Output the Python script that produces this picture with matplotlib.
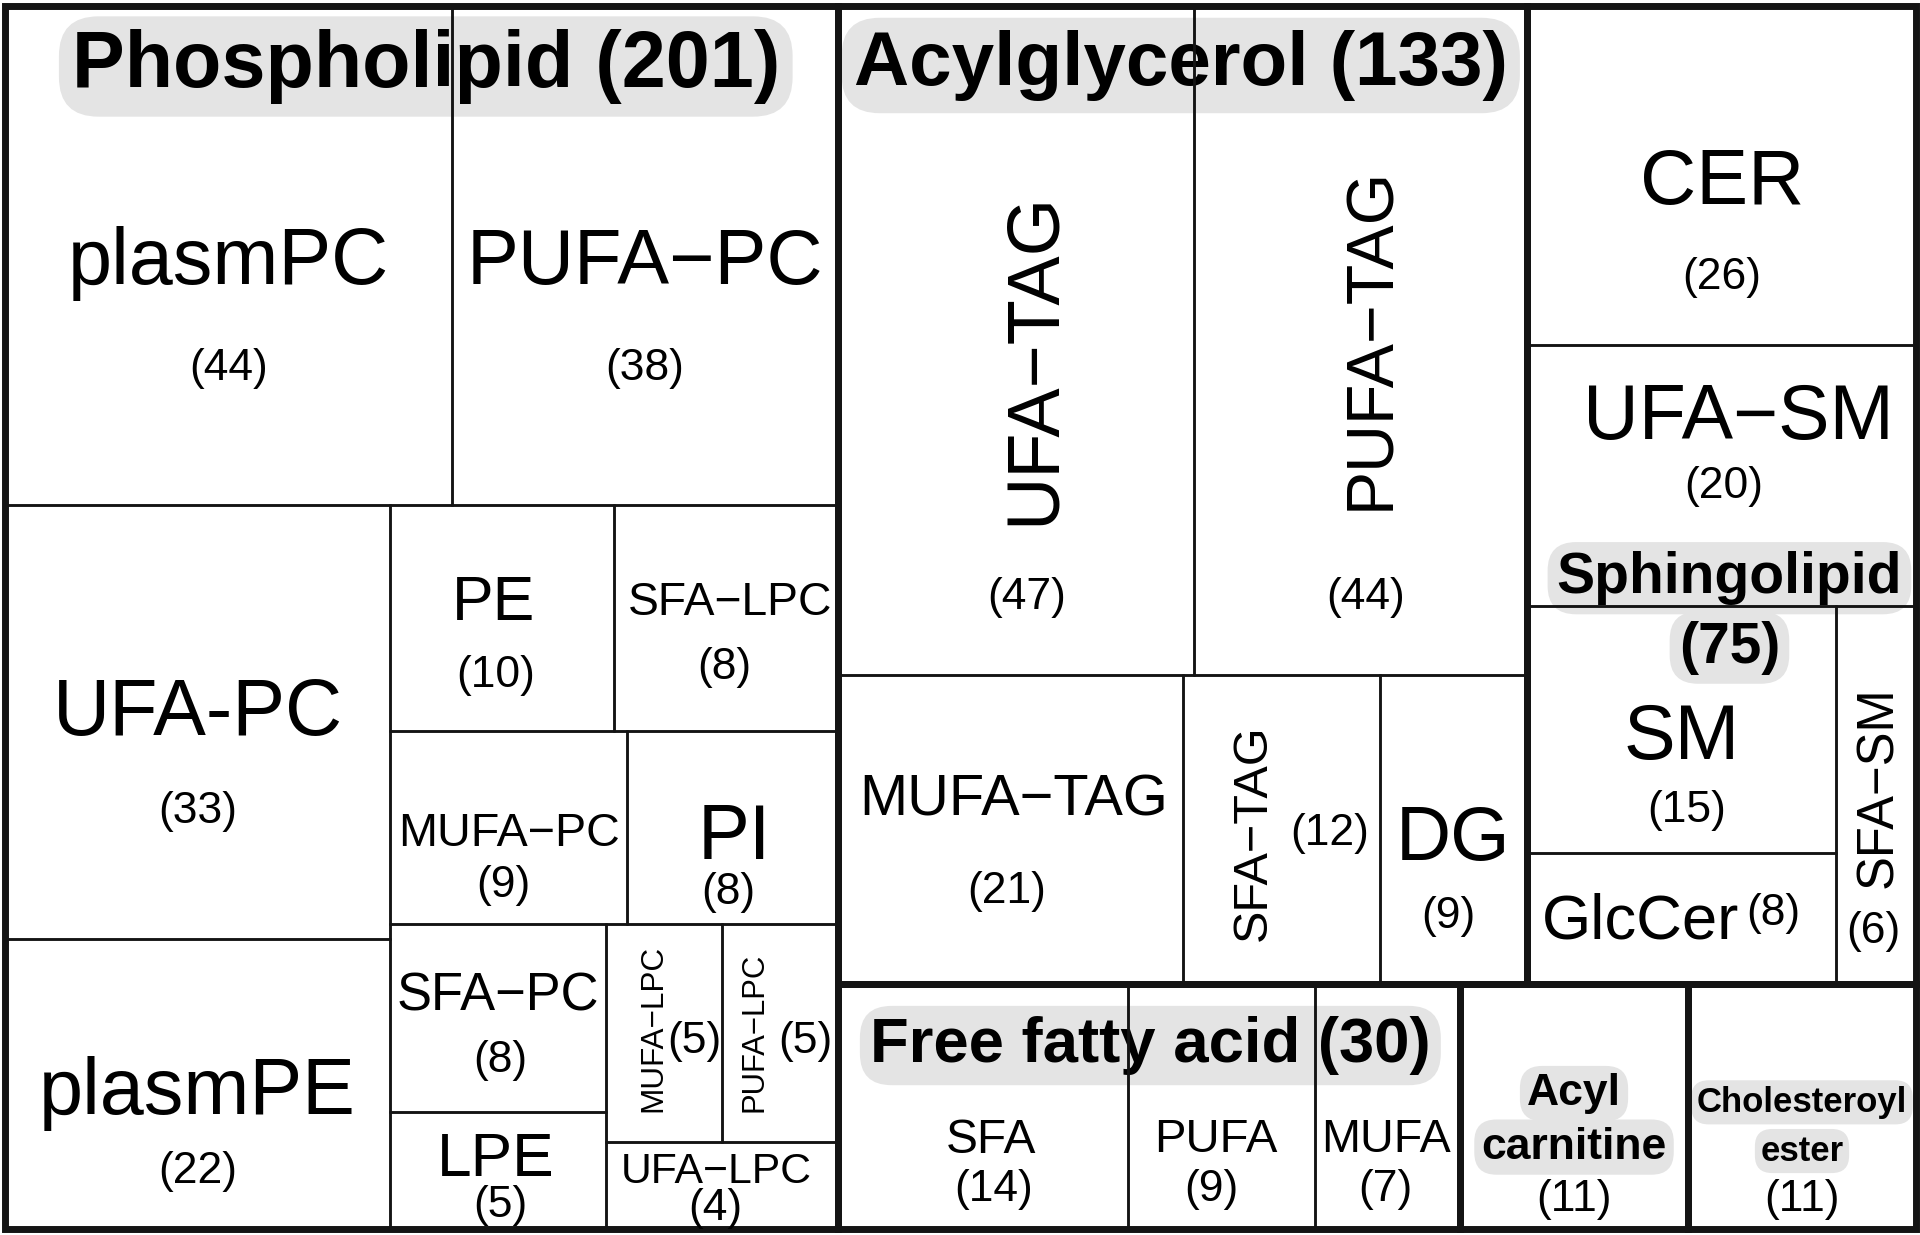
import matplotlib
matplotlib.use("Agg")
import matplotlib.pyplot as plt
from matplotlib.patches import Rectangle

# ---------------- data ----------------
group_names = ["Phospholipid", "Acylglycerol", "Sphingolipid",
               "Free fatty acid", "Acyl carnitine", "Cholesteroyl ester"]
group_counts = [201, 133, 75, 30, 11, 11]

phospholipid_classes = ["plasmPC", "PUFA\u2212PC", "UFA-PC", "plasmPE", "PE", "SFA\u2212LPC",
                        "MUFA\u2212PC", "PI", "SFA\u2212PC", "LPE", "MUFA\u2212LPC",
                        "PUFA\u2212LPC", "UFA\u2212LPC"]
phospholipid_counts = [44, 38, 33, 22, 10, 8, 9, 8, 8, 5, 5, 5, 4]
# tile areas (the SFA-LPC tile has the area of 10)
phospholipid_areas = [44, 38, 33, 22, 10, 10, 9, 8, 8, 5, 5, 5, 4]

acylglycerol_classes = ["UFA\u2212TAG", "PUFA\u2212TAG", "MUFA\u2212TAG", "SFA\u2212TAG", "DG"]
acylglycerol_counts = [47, 44, 21, 12, 9]

sphingolipid_classes = ["CER", "UFA\u2212SM", "SM", "GlcCer", "SFA\u2212SM"]
sphingolipid_counts = [26, 20, 15, 8, 6]

ffa_classes = ["SFA", "PUFA", "MUFA"]
ffa_counts = [14, 9, 7]

acylcarnitine_counts = [11]
cholesteroyl_counts = [11]

group_leaves = [
    (phospholipid_classes, phospholipid_counts, phospholipid_areas),
    (acylglycerol_classes, acylglycerol_counts, acylglycerol_counts),
    (sphingolipid_classes, sphingolipid_counts, sphingolipid_counts),
    (ffa_classes, ffa_counts, ffa_counts),
    ([""], acylcarnitine_counts, acylcarnitine_counts),
    ([""], cholesteroyl_counts, cholesteroyl_counts),
]

# ---------------- styles ----------------
FONT = "Liberation Sans"
COUNT_FS = 32
LINE_C = "#141414"
BG_C = "#e4e4e4"

# name: (fontsize, fx, fy, rotation, count_fx, count_fy) -- fractions of the tile
leaf_style = {
    "plasmPC": (57, 0.50, 0.50, 0, 0.50, 0.727),
    "PUFA\u2212PC": (56, 0.50, 0.50, 0, 0.50, 0.727),
    "UFA-PC": (57, 0.50, 0.465, 0, 0.50, 0.706),
    "plasmPE": (57, 0.50, 0.504, 0, 0.50, 0.80),
    "PE": (45, 0.46, 0.41, 0, 0.47, 0.753),
    "SFA\u2212LPC": (33.3, 0.516, 0.414, 0, 0.49, 0.72),
    "MUFA\u2212PC": (33.6, 0.50, 0.51, 0, 0.477, 0.80),
    "PI": (56, 0.506, 0.52, 0, 0.477, 0.84),
    "SFA\u2212PC": (37.8, 0.50, 0.36, 0, 0.51, 0.73),
    "LPE": (44.8, 0.49, 0.36, 0, 0.51, 0.80),
    "MUFA\u2212LPC": (22.7, 0.38, 0.48, 90, 0.76, 0.54),
    "PUFA\u2212LPC": (22.4, 0.255, 0.50, 90, 0.72, 0.54),
    "UFA\u2212LPC": (30.8, 0.476, 0.30, 0, 0.47, 0.77),
    "UFA\u2212TAG": (53.2, 0.53, 0.526, 90, 0.53, 0.883),
    "PUFA\u2212TAG": (47.7, 0.515, 0.497, 90, 0.515, 0.883),
    "MUFA\u2212TAG": (41.6, 0.509, 0.385, 0, 0.488, 0.70),
    "SFA\u2212TAG": (35, 0.335, 0.51, 90, 0.745, 0.51),
    "DG": (55, 0.50, 0.51, 0, 0.467, 0.78),
    "CER": (56, 0.50, 0.50, 0, 0.50, 0.80),
    "UFA\u2212SM": (55.5, 0.542, 0.25, 0, 0.506, 0.54),
    "SM": (55.8, 0.50, 0.505, 0, 0.518, 0.83),
    "GlcCer": (45.6, 0.367, 0.48, 0, 0.798, 0.46),
    "SFA\u2212SM": (36.5, 0.47, 0.48, 90, 0.47, 0.86),
    "SFA": (34.5, 0.525, 0.617, 0, 0.536, 0.84),
    "PUFA": (34, 0.467, 0.617, 0, 0.444, 0.84),
    "MUFA": (33.6, 0.487, 0.617, 0, 0.487, 0.84),
    "": (0, 0.5, 0.5, 0, 0.50, 0.88),
}

# group header: (fontsize, fx, [fy per line], mode)
header_style = {
    "Phospholipid": (57, 0.505, [0.043], "inline"),
    "Acylglycerol": (55, 0.497, [0.053], "inline"),
    "Sphingolipid": (41, 0.52, [0.579, 0.650], "below"),
    "Free fatty acid": (45.7, 0.502, [0.224], "inline"),
    "Acyl carnitine": (32, 0.50, [0.428, 0.647], "split"),
    "Cholesteroyl ester": (25, 0.50, [0.468, 0.667], "split"),
}


# ---------------- pivot-by-size treemap layout ----------------
def pivot_layout(sizes, x, y, w, h):
    n = len(sizes)
    out = [None] * n
    if n == 0:
        return out
    if n == 1:
        out[0] = (x, y, w, h)
        return out
    total = float(sum(sizes))
    p = max(range(n), key=lambda i: (sizes[i], -i))
    L1 = list(range(0, p))
    rest = list(range(p + 1, n))
    s1 = sum(sizes[i] for i in L1)
    wide = w >= h
    if wide:
        w1 = w * s1 / total
        r1 = (x, y, w1, h)
        xr, yr, wr, hr = x + w1, y, w - w1, h
    else:
        h1 = h * s1 / total
        r1 = (x, y, w, h1)
        xr, yr, wr, hr = x, y + h1, w, h - h1
    rem = total - s1
    sp = sizes[p]
    best = None
    for k in range(len(rest) + 1):
        s2 = sum(sizes[i] for i in rest[:k])
        if wide:
            cw = wr * (sp + s2) / rem
            ph = hr * sp / (sp + s2)
            pw = cw
        else:
            ch = hr * (sp + s2) / rem
            pw = wr * sp / (sp + s2)
            ph = ch
        ar = max(pw / ph, ph / pw)
        if best is None or ar < best[0] - 1e-12:
            best = (ar, k)
    k = best[1]
    L2 = rest[:k]
    L3 = rest[k:]
    s2 = sum(sizes[i] for i in L2)
    if wide:
        cw = wr * (sp + s2) / rem
        ph = hr * sp / (sp + s2)
        rp = (xr, yr, cw, ph)
        r2 = (xr, yr + ph, cw, hr - ph)
        r3 = (xr + cw, yr, wr - cw, hr)
    else:
        ch = hr * (sp + s2) / rem
        pw = wr * sp / (sp + s2)
        rp = (xr, yr, pw, ch)
        r2 = (xr + pw, yr, wr - pw, ch)
        r3 = (xr, yr + ch, wr, hr - ch)
    out[p] = rp
    for idx, r in ((L1, r1), (L2, r2), (L3, r3)):
        if idx:
            sub = pivot_layout([sizes[i] for i in idx], *r)
            for i, rr in zip(idx, sub):
                out[i] = rr
    return out


# ---------------- figure ----------------
W, H = 1920, 1235
fig = plt.figure(figsize=(W / 100, H / 100), dpi=100, facecolor="white")
ax = fig.add_axes([0, 0, 1, 1])
ax.set_xlim(0, W)
ax.set_ylim(H, 0)
ax.axis("off")

X0, Y0, X1, Y1 = 5, 6, 1916, 1229
group_sizes = [sum(a) for (_, _, a) in group_leaves]
group_rects = pivot_layout(group_sizes, X0, Y0, X1 - X0, Y1 - Y0)


def em(fs):
    return fs * 100 / 72.0


for gname, gcount, grect, (names, counts, areas) in zip(group_names, group_counts,
                                                         group_rects, group_leaves):
    leaf_rects = pivot_layout(areas, *grect)
    for name, cnt, (x, y, w, h) in zip(names, counts, leaf_rects):
        ax.add_patch(Rectangle((x, y), w, h, fill=False, ec=LINE_C, lw=1.8, zorder=3))
        fs, fx, fy, rot, cfx, cfy = leaf_style[name]
        if name:
            nx, ny = x + fx * w, y + fy * h
            if rot == 0:
                ny += 0.1 * em(fs)
            else:
                nx += 0.1 * em(fs)
            ax.text(nx, ny, name, fontsize=fs, family=FONT, rotation=rot,
                    ha="center", va="center", color="black", zorder=5)
        ax.text(x + cfx * w, y + cfy * h, "(%d)" % cnt, fontsize=COUNT_FS, family=FONT,
                ha="center", va="center", color="black", zorder=5)

    # group header
    fs, fx, fys, mode = header_style[gname]
    if mode == "inline":
        lines = ["%s (%d)" % (gname, gcount)]
    elif mode == "below":
        lines = [gname, "(%d)" % gcount]
    else:
        lines = gname.split(" ")
    x, y, w, h = grect
    for line, fy in zip(lines, fys):
        ax.text(x + fx * w, y + fy * h + 0.1 * em(fs), line, fontsize=fs, family=FONT,
                fontweight="bold", ha="center", va="center", color="black", zorder=2,
                bbox=dict(boxstyle="round,pad=0.16,rounding_size=0.5", fc=BG_C, ec="none"))
    ax.add_patch(Rectangle((x, y), w, h, fill=False, ec=LINE_C, lw=5.0, zorder=4))

fig.savefig("out.png", dpi=100, facecolor="white")
